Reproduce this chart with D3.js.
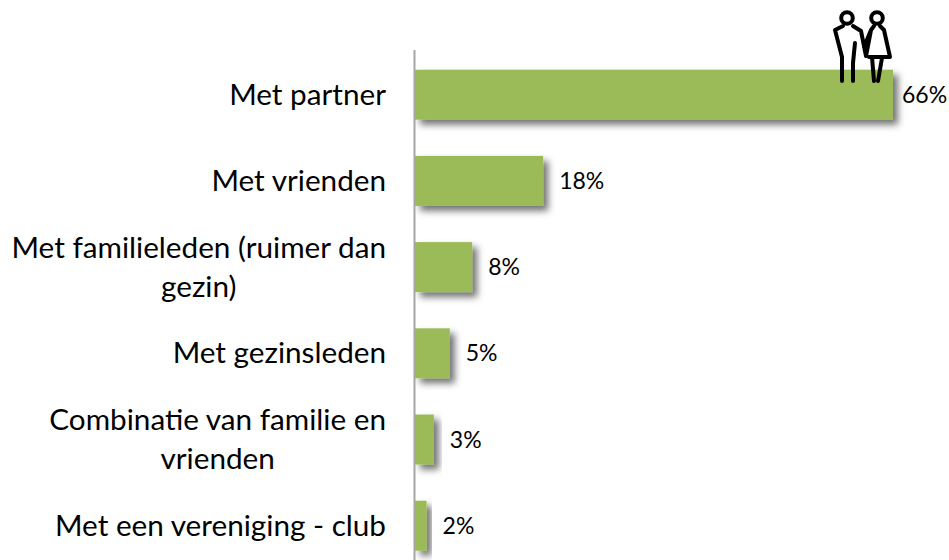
<!DOCTYPE html>
<html><head><meta charset="utf-8">
<script src="https://cdn.jsdelivr.net/npm/d3@7"></script>
<style>html,body{margin:0;background:#fff}svg{display:block}text{font-family:Lato,"Open Sans",sans-serif;fill:#000}</style>
</head><body><svg id="c" width="949" height="560"></svg>
<script>
const categories=["Met partner","Met vrienden","Met familieleden (ruimer dan|gezin)","Met gezinsleden","Combinatie van familie en|vrienden","Met een vereniging - club"];
const values=[66,17.7,7.9,4.8,2.6,1.6];
const valueLabels=["66%","18%","8%","5%","3%","2%"];
const svg=d3.select("#c");
const x=d3.scaleLinear().domain([0,66]).range([415,893]);
const y=d3.scaleBand().domain(categories).range([51.6,568.8]).paddingInner(0.42).paddingOuter(0.21);
const defs=svg.append("defs");
const f=defs.append("filter").attr("id","sh").attr("x","-20%").attr("y","-20%").attr("width","160%").attr("height","160%");
f.append("feDropShadow").attr("dx",5).attr("dy",5).attr("stdDeviation",3.5).attr("flood-color","#000").attr("flood-opacity",0.55);
svg.selectAll("rect.bar").data(categories).join("rect").attr("class","bar")
 .attr("x",x(0)).attr("y",d=>y(d)).attr("width",(d,i)=>x(values[i])-x(0)).attr("height",y.bandwidth())
 .attr("fill","#9bbb59").attr("filter","url(#sh)");
svg.append("line").attr("x1",414.5).attr("x2",414.5).attr("y1",50).attr("y2",560).attr("stroke","#a6a6a6").attr("stroke-width",2);
svg.selectAll("g.cat").data(categories).join("g").attr("class","cat").each(function(d){
 const lines=d.split("|"),c=y(d)+y.bandwidth()/2,g=d3.select(this);
 let w0=0;
 lines.forEach((l,i)=>{
  const t=g.append("text").text(l).attr("font-size",29.7).attr("y",c+10+(i-(lines.length-1)/2)*39);
  if(i===0){t.attr("text-anchor","end").attr("x",386);w0=t.node().getComputedTextLength();}
  else t.attr("text-anchor","middle").attr("x",386-w0/2);
 });
});
svg.selectAll("text.val").data(categories).join("text").attr("class","val")
 .attr("x",(d,i)=>x(values[i])+(i===0?9:16)).attr("y",d=>y(d)+y.bandwidth()/2+8)
 .attr("font-size",23).text((d,i)=>valueLabels[i]);
const icon=svg.append("g").attr("fill","none").attr("stroke","#000").attr("stroke-width",4).attr("stroke-linecap","round").attr("stroke-linejoin","round");
icon.append("circle").attr("cx",847).attr("cy",18).attr("r",5.8);
icon.append("circle").attr("cx",877).attr("cy",18).attr("r",5.8);
icon.append("path").attr("d","M843 26L835 30L842 57L842 81M853 81L853 63L855 43M853 26L861 31L866 56L871 30L874 26M880 26L884 30L890 57L869 57M872 57L874 81M882 58L878 81M871 30L864 47");
</script></body></html>
